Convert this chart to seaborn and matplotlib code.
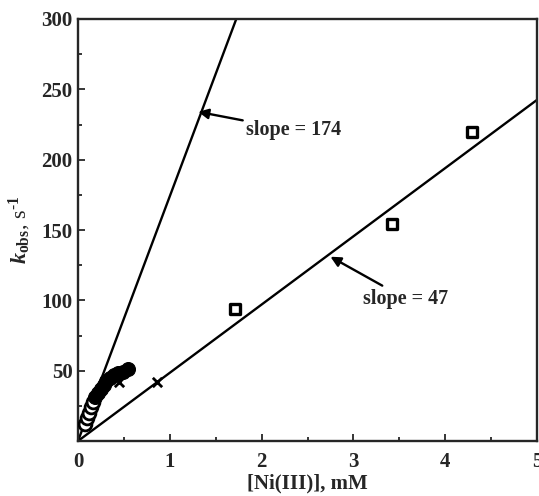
import numpy as np
import pandas as pd
import matplotlib
matplotlib.use('Agg')
import matplotlib.pyplot as plt
import seaborn as sns
from matplotlib.ticker import MultipleLocator

# data
open_x = [0.08, 0.10, 0.12, 0.14, 0.16]
open_y = [12, 16, 20, 24, 28]
filled_x = [0.19, 0.22, 0.25, 0.28, 0.31, 0.35, 0.39, 0.44, 0.49, 0.55]
filled_y = [31, 34, 37, 40, 43, 45, 47, 48, 49, 51]
cross_x = [0.45, 0.86]
cross_y = [42, 42]
square_x = [1.71, 3.42, 4.29]
square_y = [94, 154, 220]
# slopes as drawn in the figure (labels say 174 and 47)
fit_slopes = [174, 48.5]
fit_xmax = [1.8, 5.2]
slope_labels = ['slope = 174', 'slope = 47']

sns.set_style('ticks')
plt.rcParams['font.family'] = ['Liberation Serif', 'DejaVu Serif']
plt.rcParams['font.weight'] = 'bold'
plt.rcParams['mathtext.fontset'] = 'custom'
plt.rcParams['mathtext.rm'] = 'Liberation Serif:bold'
plt.rcParams['mathtext.it'] = 'Liberation Serif:bold:italic'
plt.rcParams['mathtext.bf'] = 'Liberation Serif:bold'

fig = plt.figure(figsize=(5.39, 4.96), dpi=100)
ax = fig.add_axes([78 / 539, 55 / 496, 459 / 539, 422 / 496])

# fitted lines through the origin
for s, xm in zip(fit_slopes, fit_xmax):
    fx = np.array([0, xm])
    sns.lineplot(x=fx, y=s * fx, ax=ax, color='black', lw=1.7)

sns.scatterplot(x=open_x, y=open_y, ax=ax, marker='o', s=85,
                facecolor='white', edgecolor='black', linewidth=2.0, zorder=3)
sns.scatterplot(x=filled_x, y=filled_y, ax=ax, marker='o', s=100,
                color='black', edgecolor='black', zorder=3)
sns.scatterplot(x=cross_x, y=cross_y, ax=ax, marker='x', s=45,
                color='black', linewidth=2.0, zorder=3)
sns.scatterplot(x=square_x, y=square_y, ax=ax, marker='s', s=60,
                facecolor='white', edgecolor='black', linewidth=2.4, zorder=3)

arrow = dict(arrowstyle='-|>', color='black', lw=1.7,
             mutation_scale=15, shrinkA=0, shrinkB=0)
ax.annotate(slope_labels[0], xy=(1.31, 234), xytext=(1.83, 221),
            fontsize=14.5, fontweight='bold', va='center', ha='left',
            arrowprops=arrow)
ax.annotate(slope_labels[1], xy=(2.75, 131), xytext=(3.11, 101),
            fontsize=14.5, fontweight='bold', va='center', ha='left',
            arrowprops=arrow)

ax.set_xlim(0, 5)
ax.set_ylim(0, 300)
ax.xaxis.set_major_locator(MultipleLocator(1))
ax.xaxis.set_minor_locator(MultipleLocator(0.5))
ax.yaxis.set_minor_locator(MultipleLocator(25))
ax.set_yticks([50, 100, 150, 200, 250, 300])
ax.tick_params(which='both', direction='in', labelsize=15, width=1.3)
ax.tick_params(which='major', length=5)
ax.tick_params(which='minor', length=3)
ax.tick_params(axis='x', pad=8)
ax.tick_params(axis='y', pad=4)
for sp in ax.spines.values():
    sp.set_linewidth(1.7)

ax.set_xlabel('[Ni(III)], mM', fontsize=15, fontweight='bold', labelpad=1)
ax.set_ylabel(r'$k_{\rm obs}$, s$^{\text{-1}}$', fontsize=16, labelpad=6)

plt.savefig('out.png', dpi=100)
